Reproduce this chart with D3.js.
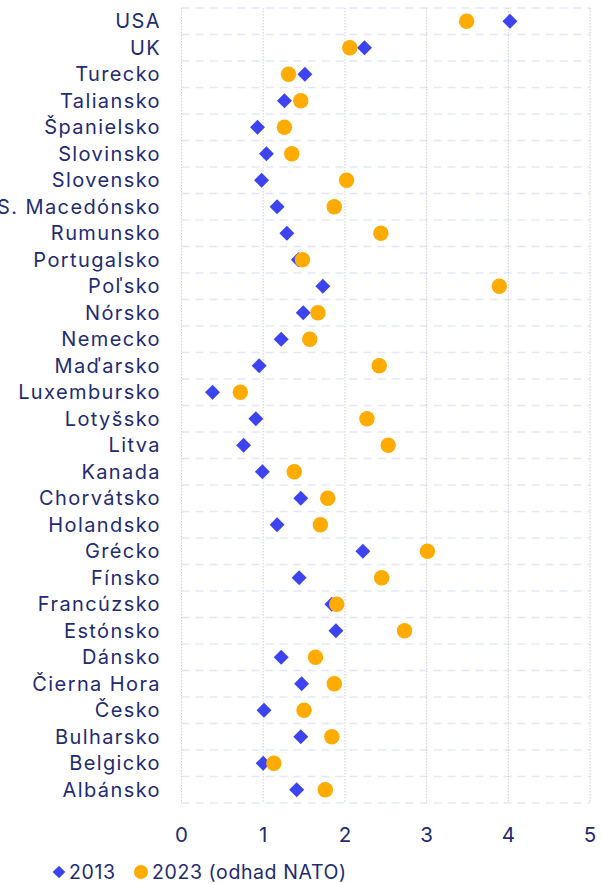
<!DOCTYPE html>
<html lang="sk">
<head>
<meta charset="UTF-8">
<script src="https://cdn.jsdelivr.net/npm/d3@7"></script>
<style>
  body { margin: 0; background: #fff; }
  svg text { font-family: Inter, "Open Sans", sans-serif; fill: #1f2b73; }
</style>
</head>
<body>
<div id="chart"></div>
<script>
// Countries, top to bottom
const countries = ["USA", "UK", "Turecko", "Taliansko", "Španielsko", "Slovinsko", "Slovensko",
  "S. Macedónsko", "Rumunsko", "Portugalsko", "Poľsko", "Nórsko", "Nemecko", "Maďarsko",
  "Luxembursko", "Lotyšsko", "Litva", "Kanada", "Chorvátsko", "Holandsko", "Grécko", "Fínsko",
  "Francúzsko", "Estónsko", "Dánsko", "Čierna Hora", "Česko", "Bulharsko", "Belgicko", "Albánsko"];

// defence spending, % of GDP
const values2013 = [4.02, 2.24, 1.51, 1.26, 0.93, 1.04, 0.98, 1.17, 1.29, 1.43, 1.73, 1.49, 1.22, 0.95,
  0.38, 0.91, 0.76, 0.99, 1.46, 1.17, 2.22, 1.44, 1.84, 1.89, 1.22, 1.47, 1.01, 1.46, 1.00, 1.41];
const values2023 = [3.49, 2.06, 1.31, 1.46, 1.26, 1.35, 2.02, 1.87, 2.44, 1.48, 3.89, 1.67, 1.57, 2.42,
  0.72, 2.27, 2.53, 1.38, 1.79, 1.70, 3.01, 2.45, 1.90, 2.73, 1.64, 1.87, 1.50, 1.84, 1.13, 1.76];

const xTicks = [0, 1, 2, 3, 4, 5];
const legendLabels = ["2013", "2023 (odhad NATO)"];

const width = 603, height = 884;
const margin = { top: 8, right: 13, bottom: 81, left: 181.5 };

const blue = "#3d44ef", orange = "#ffab00";

const svg = d3.select("#chart").append("svg")
  .attr("width", width)
  .attr("height", height);

const x = d3.scaleLinear().domain([0, 5]).range([margin.left, width - margin.right]);
const y = d3.scaleBand().domain(countries).range([margin.top, height - margin.bottom]);

// horizontal dashed grid (band edges)
const edges = countries.map(c => y(c)).concat([y.range()[1]]);
svg.append("g").selectAll("line")
  .data(edges)
  .join("line")
  .attr("x1", x(0)).attr("x2", x(5))
  .attr("y1", d => d).attr("y2", d => d)
  .attr("stroke", "#e4e7f9")
  .attr("stroke-width", 1.3)
  .attr("stroke-dasharray", "8,6");

// vertical dotted grid
svg.append("g").selectAll("line")
  .data(xTicks)
  .join("line")
  .attr("x1", d => x(d)).attr("x2", d => x(d))
  .attr("y1", y.range()[0]).attr("y2", y.range()[1])
  .attr("stroke", "#cfcfd4")
  .attr("stroke-width", 1)
  .attr("stroke-dasharray", "1.5,1.5");

// y labels
svg.append("g").selectAll("text")
  .data(countries)
  .join("text")
  .attr("x", 161)
  .attr("y", d => y(d) + y.bandwidth() / 2)
  .attr("dy", "0.36em")
  .attr("text-anchor", "end")
  .style("font-size", "20px")
  .style("letter-spacing", "1.4px")
  .text(d => d);

// x tick labels
svg.append("g").selectAll("text")
  .data(xTicks)
  .join("text")
  .attr("x", d => x(d))
  .attr("y", 842)
  .attr("text-anchor", "middle")
  .style("font-size", "20.5px")
  .text(d => d);

const diamond = d3.symbol().type(d3.symbolSquare).size(112);

// 2013 diamonds
svg.append("g").selectAll("path")
  .data(countries)
  .join("path")
  .attr("d", diamond)
  .attr("transform", (d, i) => `translate(${x(values2013[i])},${y(d) + y.bandwidth() / 2}) rotate(45)`)
  .attr("fill", blue);

// 2023 circles
svg.append("g").selectAll("circle")
  .data(countries)
  .join("circle")
  .attr("cx", (d, i) => x(values2023[i]))
  .attr("cy", d => y(d) + y.bandwidth() / 2)
  .attr("r", 7.7)
  .attr("fill", orange);

// legend
const legend = svg.append("g").attr("transform", "translate(0,872)");
legend.append("path")
  .attr("d", d3.symbol().type(d3.symbolSquare).size(80))
  .attr("transform", "translate(59,0) rotate(45)")
  .attr("fill", blue);
legend.append("text")
  .attr("x", 69).attr("dy", "0.36em")
  .style("font-size", "19.5px")
  .style("letter-spacing", "0.6px")
  .text(legendLabels[0]);
legend.append("circle")
  .attr("cx", 141).attr("r", 7)
  .attr("fill", orange);
legend.append("text")
  .attr("x", 152).attr("dy", "0.36em")
  .style("font-size", "19.5px")
  .style("letter-spacing", "0.6px")
  .text(legendLabels[1]);
</script>
</body>
</html>
